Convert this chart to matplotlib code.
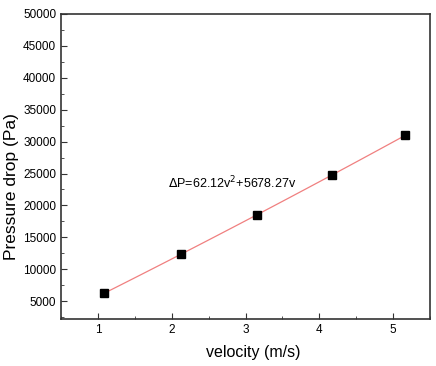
import matplotlib.pyplot as plt
import numpy as np
from matplotlib.ticker import MultipleLocator

plt.rcParams["font.family"] = ["Liberation Sans", "DejaVu Sans"]

# measured points
velocity = [1.08, 2.13, 3.16, 4.17, 5.16]
pressure = [6200, 12350, 18550, 24800, 31000]

# fit shown on the chart: dP = a*v^2 + b*v
a_coef = 62.12
b_coef = 5678.27

fig = plt.figure(figsize=(4.36, 3.66), dpi=100)
ax = fig.add_axes([61 / 436, 1 - 319 / 366, (430 - 61) / 436, (319 - 14) / 366])

vfit = np.linspace(velocity[0], velocity[-1], 50)
ax.plot(vfit, a_coef * vfit ** 2 + b_coef * vfit, color="#f08080", lw=0.9)
ax.plot(velocity, pressure, "s", color="black", markersize=5.5)

ax.text(1.95, 23500, r"$\Delta$P=62.12v$^2$+5678.27v", fontsize=9, ha="left", va="center")

ax.set_xlim(0.5, 5.5)
ax.set_ylim(2200, 50000)
ax.xaxis.set_major_locator(MultipleLocator(1))
ax.xaxis.set_minor_locator(MultipleLocator(0.5))
ax.yaxis.set_major_locator(MultipleLocator(5000))
ax.yaxis.set_minor_locator(MultipleLocator(2500))
ax.tick_params(which="both", direction="in", top=False, right=False, labelsize=8.5, color="#333333")
ax.tick_params(which="major", length=4)
ax.tick_params(which="minor", length=2.5)
for s in ax.spines.values():
    s.set_linewidth(1.2)
    s.set_color("#333333")

ax.set_xlabel("velocity (m/s)", fontsize=11.5, va="center")
ax.set_ylabel("Pressure drop (Pa)", fontsize=12.5, va="center")
ax.xaxis.set_label_coords(0.52, -0.111)
ax.yaxis.set_label_coords(-0.135, 0.433)

fig.savefig("out.png", dpi=100)
